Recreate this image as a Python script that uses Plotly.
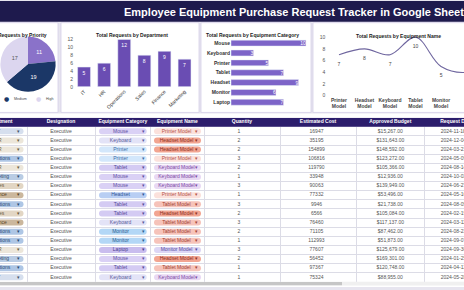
import plotly.graph_objects as go

W, H = 464, 290
FONT = "Liberation Sans, Arial, sans-serif"

# ---------------- data ----------------
priority_labels = ["Low", "Medium", "High"]
priority_values = [11, 19, 17]

departments = ["IT", "HR", "Operations", "Sales", "Finance", "Marketing"]
dept_values = [5, 6, 12, 8, 9, 7]

categories = ["Mouse", "Keyboard", "Printer", "Tablet", "Headset", "Monitor", "Laptop"]
cat_values = [10, 3, 5, 7, 9, 6, 7]

equip_names = ["Printer Model", "Headset Model", "Keyboard Model", "Tablet Model",
               "Monitor Model", "Mouse Model", "Laptop Model"]
equip_values = [7, 8, 7, 10, 5, 4, 6]

table_headers = ["Department", "Designation", "Equipment Category", "Equipment Name",
                 "Quantity", "Estimated Cost", "Approved Budget", "Request Date"]
col_department = ["IT", "HR", "HR", "Operations", "HR", "Marketing", "Sales", "Finance",
                  "Operations", "Sales", "Finance", "Operations", "Operations", "HR",
                  "Marketing", "Operations", "IT"]
col_designation = ["Executive"] * 17
col_category = ["Mouse", "Keyboard", "Printer", "Printer", "Tablet", "Mouse", "Mouse", "Headset",
                "Tablet", "Tablet", "Keyboard", "Monitor", "Monitor", "Laptop", "Mouse", "Tablet",
                "Keyboard"]
col_name = ["Printer Model", "Headset Model", "Headset Model", "Printer Model", "Keyboard Model",
            "Keyboard Model", "Keyboard Model", "Printer Model", "Tablet Model", "Headset Model",
            "Tablet Model", "Tablet Model", "Tablet Model", "Monitor Model", "Headset Model",
            "Tablet Model", "Keyboard Model"]
col_quantity = [1, 2, 2, 3, 2, 1, 3, 1, 3, 2, 3, 2, 1, 3, 2, 1, 1]
col_est_cost = [16947, 35195, 154899, 106816, 119790, 33948, 90063, 77332, 9946, 6566, 76460,
                71105, 112993, 77607, 56452, 97367, 75324]
col_budget = [15267, 131643, 148592, 123272, 105366, 12936, 139949, 53496, 21738, 105084,
              117137, 87462, 51873, 125679, 169301, 120748, 88955]
col_date = ["2024-11-18", "2024-12-04", "2024-03-21", "2024-05-09", "2024-08-14", "2024-10-02",
            "2024-06-27", "2024-05-16", "2024-08-05", "2024-02-19", "2024-03-11", "2024-08-23",
            "2024-09-07", "2024-09-30", "2024-01-25", "2024-04-12", "2024-05-28"]

# ---------------- styles ----------------
pie_colors = ["#8a72c9", "#1b3767", "#dcd6ef"]
dept_style = {"IT": ("#d6dfee", "#44546a"), "HR": ("#ece6da", "#6b5e45"),
              "Operations": ("#aec6e5", "#284a73"), "Marketing": ("#b9cce4", "#2e4a6e"),
              "Sales": ("#e2d6c4", "#6b5536"), "Finance": ("#cbb79d", "#5a4326")}
cat_style = {"Mouse": ("#dad1f5", "#5e4fa2"), "Keyboard": ("#e3e3f7", "#5a5a9a"),
             "Printer": ("#d3e7fb", "#3d6ea8"), "Tablet": ("#d4cbf3", "#574a99"),
             "Headset": ("#b8cef3", "#2f5597"), "Monitor": ("#b3d7f6", "#2a5d8f"),
             "Laptop": ("#c9bdee", "#4b3c8f")}
name_style = {"Printer Model": ("#fbe1dc", "#b5534a"), "Headset Model": ("#f2a592", "#8d2e1f"),
              "Keyboard Model": ("#e9d9f4", "#7b4aa5"), "Tablet Model": ("#f6c3ba", "#a13f33"),
              "Monitor Model": ("#dcd6f5", "#5448a0")}
col_widths = [27, 68, 55.7, 53.3, 76, 76, 68.7, 39.3]


def px_x(p):
    return p / W


def px_y(p):
    return 1 - p / H


fig = go.Figure()

# Pie: requests by priority
fig.add_trace(go.Pie(
    labels=priority_labels, values=priority_values, sort=False, direction="clockwise",
    rotation=0, marker=dict(colors=pie_colors),
    textinfo="value", insidetextfont=dict(size=5.5, color=["white", "white", "#555"], family=FONT),
    domain=dict(x=[0, px_x(56)], y=[px_y(92), px_y(36)]), showlegend=False, hoverinfo="skip"))

# Bar: requests by department
fig.add_trace(go.Bar(
    x=departments, y=dept_values, marker_color="#6a4db3", width=0.64,
    text=dept_values, textposition="inside", insidetextanchor="end", textangle=0,
    textfont=dict(size=5, color="white", family=FONT), xaxis="x", yaxis="y", hoverinfo="skip"))

# Horizontal bar: requests by category
fig.add_trace(go.Bar(
    y=categories, x=cat_values, orientation="h", marker_color="#7d64c8", width=0.6,
    text=cat_values, textposition="inside", insidetextanchor="end", textangle=0,
    textfont=dict(size=5, color="white", family=FONT), xaxis="x2", yaxis="y2", hoverinfo="skip"))

# Spline: requests by equipment name
fig.add_trace(go.Scatter(
    x=equip_names, y=equip_values, mode="lines+markers+text",
    line=dict(shape="spline", smoothing=1.0, color="#6f669f", width=1.1),
    marker=dict(size=10, color="rgba(0,0,0,0)"), text=equip_values,
    textposition="bottom center", textfont=dict(size=5, color="#444", family=FONT),
    xaxis="x3", yaxis="y3", cliponaxis=True, hoverinfo="skip"))

# ---------------- table (drawn on its own axes: x in column-width units, y = row) -------------
edges = [0]
for w in col_widths:
    edges.append(edges[-1] + w)
centers = [(edges[i] + edges[i + 1]) / 2 for i in range(len(col_widths))]
n = len(col_designation)
rows = list(range(1, n + 1))
TX = dict(xaxis="x4", yaxis="y4", hoverinfo="skip", cliponaxis=True)

# header band
fig.add_trace(go.Bar(y=[0], x=[edges[-1]], base=[0], orientation="h", width=1,
                     marker=dict(color="#2c1d6c", line_width=0), xaxis="x4", yaxis="y4",
                     hoverinfo="skip"))

# dropdown chips (pill cells); the department chip is partly scrolled out on the left
chip_cols = [
    (col_department, dept_style, -30, 53.5),
    (col_category, cat_style, edges[2] + 4, 47.7),
    (col_name, name_style, edges[3] + 3.3, 47),
]
for vals, style, left, wid in chip_cols:
    fig.add_trace(go.Bar(y=rows, x=[wid] * n, base=[left] * n, orientation="h", width=0.66,
                         marker=dict(color=[style[v][0] for v in vals], line_width=0,
                                     cornerradius=3),
                         xaxis="x4", yaxis="y4", hoverinfo="skip"))

# header texts
hdr_pos = ["middle left"] + ["middle center"] * 6 + ["middle right"]
hdr_x = [12.5] + centers[1:7] + [edges[7] + 15.5]
fig.add_trace(go.Scatter(x=hdr_x, y=[0] * len(table_headers), mode="text",
                         text=["<b>" + h + "</b>" for h in table_headers],
                         textposition=hdr_pos,
                         textfont=dict(size=5, color="white", family=FONT), **TX))


# cell texts
def add_col(x, vals, colors, pos="middle center"):
    fig.add_trace(go.Scatter(x=[x] * n, y=rows, mode="text", text=vals, textposition=pos,
                             textfont=dict(size=5, color=colors, family=FONT), **TX))


add_col(-2, col_department, [dept_style[d][1] for d in col_department])
add_col(18.5, ["▾"] * n, [dept_style[d][1] for d in col_department])
add_col(centers[1], col_designation, "#555")
add_col(edges[2] + 25.5, col_category, [cat_style[c][1] for c in col_category])
add_col(edges[2] + 48.3, ["▾"] * n, [cat_style[c][1] for c in col_category])
add_col(edges[3] + 25.8, col_name, [name_style[m][1] for m in col_name])
add_col(edges[3] + 46.2, ["▾"] * n, [name_style[m][1] for m in col_name])
add_col(centers[4] - 3, [str(q) for q in col_quantity], "#555")
add_col(centers[5] - 1.5, [str(c) for c in col_est_cost], "#555")
add_col(centers[6], [f"${b:,.2f}" for b in col_budget], "#555")
add_col(edges[7] + 16, col_date, "#555", "middle right")

# ---------------- decoration ----------------
shapes = [
    dict(type="rect", xref="paper", yref="paper", x0=0, x1=1, y0=px_y(21), y1=1,
         fillcolor="#1e1a4d", line_width=0, layer="below"),
    dict(type="rect", xref="paper", yref="paper", x0=0, x1=1, y0=0, y1=px_y(114),
         fillcolor="white", line_width=0, layer="below"),
    dict(type="rect", xref="paper", yref="paper", x0=0, x1=1, y0=px_y(288.5), y1=px_y(284.8),
         fillcolor="#f0f0f0", line_width=0, layer="above"),
    dict(type="rect", xref="paper", yref="paper", x0=0, x1=px_x(342), y0=px_y(288.3),
         y1=px_y(285), fillcolor="#c6c6c6", line_width=0, layer="above"),
]
for a, b in [(-3, 58), (61, 199), (201, 311), (313, 467)]:
    shapes.append(dict(type="rect", xref="paper", yref="paper", x0=px_x(a), x1=px_x(b),
                       y0=px_y(113), y1=px_y(22), fillcolor="white",
                       line=dict(color="#d5cfe9", width=0.8), layer="below"))

ann = [
    dict(text="<b>Employee Equipment Purchase Request Tracker in Google Sheets</b>",
         x=px_x(122), y=px_y(11), xanchor="left", yanchor="middle",
         font=dict(size=11, color="white", family=FONT)),
    dict(text="<b>Total Requests by Priority</b>", x=px_x(49), y=px_y(29.5), xanchor="right",
         font=dict(size=5, color="#222", family=FONT)),
    dict(text="<b>Total Requests by Department</b>", x=px_x(131.7), y=px_y(29.7), xanchor="center",
         font=dict(size=5, color="#222", family=FONT)),
    dict(text="<b>Total Requests by Equipment Category</b>", x=px_x(253), y=px_y(29.3),
         xanchor="center", font=dict(size=5, color="#222", family=FONT)),
    dict(text="<b>Total Requests by Equipment Name</b>", x=px_x(398.7), y=px_y(30),
         xanchor="center", font=dict(size=5, color="#222", family=FONT)),
]
# pie legend (dot + label), centred under the pie like the original
for lab, col, dx in zip(priority_labels, pie_colors, [-26, 6, 38]):
    ann.append(dict(text="●", x=px_x(dx), y=px_y(99.3), xanchor="center", yanchor="middle",
                    font=dict(size=6, color=col, family="DejaVu Sans")))
    ann.append(dict(text=lab, x=px_x(dx + 6), y=px_y(99.3), xanchor="left", yanchor="middle",
                    font=dict(size=3.6, color="#444", family=FONT)))
for a in ann:
    a.update(xref="paper", yref="paper", showarrow=False)

axis_common = dict(showgrid=False, zeroline=False, showline=False, ticks="")
fig.update_layout(
    width=W, height=H, margin=dict(l=0, r=0, t=0, b=0), showlegend=False, hovermode=False,
    barmode="overlay",
    paper_bgcolor="#e7e5ef", plot_bgcolor="white", font=dict(family=FONT),
    shapes=shapes, annotations=ann,
    xaxis=dict(domain=[px_x(74), px_x(194.6)], range=[-0.5, 5.5], tickangle=-45, anchor="y",
               tickfont=dict(size=5, color="#333"), **axis_common),
    yaxis=dict(domain=[px_y(87), px_y(37)], range=[0, 12.5], dtick=2, anchor="x",
               tickfont=dict(size=5, color="#555"), **axis_common),
    xaxis2=dict(domain=[px_x(231), px_x(307.5)], range=[0, 10.2], showticklabels=False,
                anchor="y2", **axis_common),
    yaxis2=dict(domain=[px_y(107.7), px_y(37.7)], categoryorder="array", anchor="x2",
                categoryarray=categories, autorange="reversed",
                tickfont=dict(size=5, color="#333", weight="bold"), **axis_common),
    xaxis3=dict(domain=[px_x(326.25), 1], range=[-0.5, 4.9], tickvals=equip_names, anchor="y3",
                ticktext=[e.replace(" ", "<br>") for e in equip_names],
                tickfont=dict(size=5, color="#444", weight="bold"), **axis_common),
    yaxis3=dict(domain=[px_y(96), px_y(33.7)], range=[0, 10.5], dtick=2, anchor="x3",
                tickfont=dict(size=5, color="#555"), **axis_common),
    xaxis4=dict(domain=[0, 1], range=[0, edges[-1]], anchor="y4", showticklabels=False,
                tickvals=edges[1:-1], showgrid=True, gridcolor="#dcdce6", gridwidth=0.6,
                zeroline=False, showline=False, ticks=""),
    yaxis4=dict(domain=[px_y(284.8), px_y(118.3)], range=[n + 0.5, -0.5], anchor="x4",
                showticklabels=False, tickvals=[i + 0.5 for i in range(n + 1)], showgrid=True,
                gridcolor="#dcdce6", gridwidth=0.6, zeroline=False, showline=False, ticks=""),
)

fig.write_html("out.html")
